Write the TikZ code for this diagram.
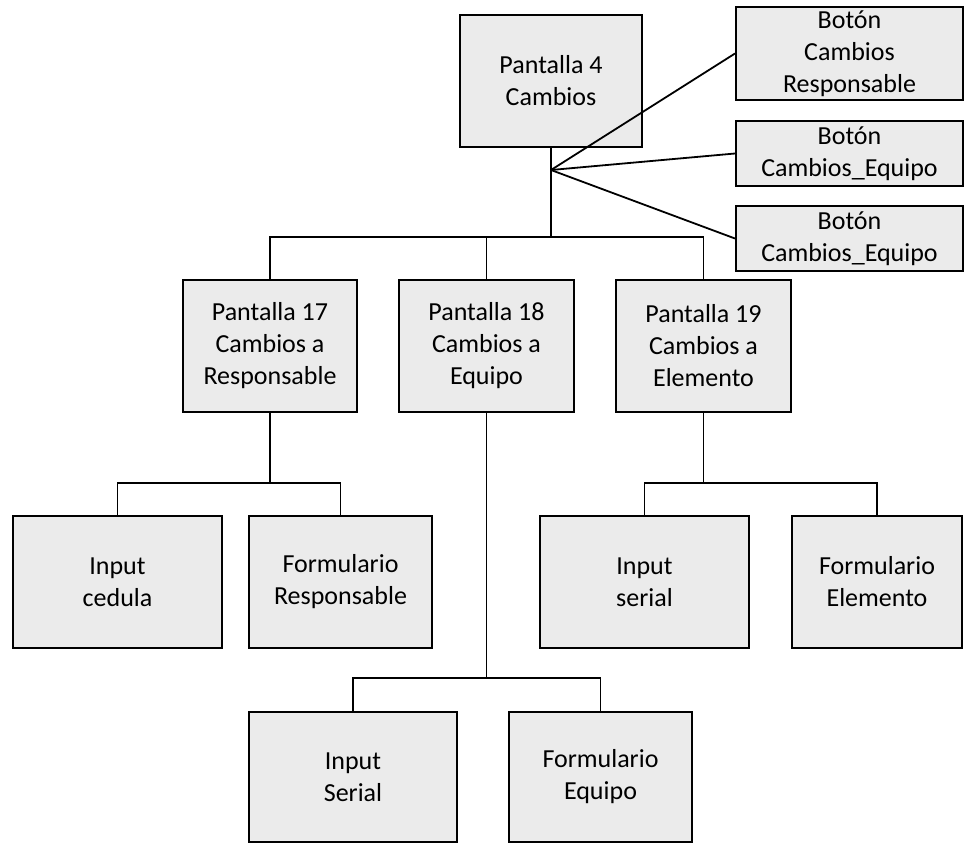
\documentclass[tikz,border=0pt]{standalone}
\usepackage{fontspec}
\setmainfont{Carlito}
\usepackage{tikz}
\usetikzlibrary{calc,positioning}

\definecolor{boxgray}{RGB}{235,235,235}

\begin{document}
\begin{tikzpicture}[x=1pt,y=-1pt,
    pantalla/.style={draw,line width=2pt,fill=boxgray,rectangle,align=center,
      inner sep=0pt,font=\fontsize{26}{32}\selectfont},
    rama/.style={line width=1.8pt}]
      \useasboundingbox (0,0) rectangle (965,844);
      % pantalla principal y botones
      \node [pantalla,minimum width=182pt,minimum height=132pt] (p4) at (551,81) {Pantalla 4\\Cambios};
      \node [pantalla,minimum width=227pt,minimum height=93pt] (btnresp) at (849.5,53.5) {Botón\\Cambios\\Responsable};
      \node [pantalla,minimum width=227pt,minimum height=65pt] (btnequipo) at (849.5,153.5) {Botón\\Cambios\_Equipo};
      \node [pantalla,minimum width=227pt,minimum height=65pt] (btnequipob) at (849.5,238.5) {Botón\\Cambios\_Equipo};
      % segundo nivel
      \node [pantalla,minimum width=174pt,minimum height=132pt] (p17) at (270,346) {Pantalla 17\\Cambios a\\Responsable};
      \node [pantalla,minimum width=175pt,minimum height=132pt] (p18) at (486.5,346) {Pantalla 18\\Cambios a\\Equipo};
      \node [pantalla,minimum width=175pt,minimum height=132pt] (p19) at (703.5,346) {Pantalla 19\\Cambios a\\Elemento};
      % hojas
      \node [pantalla,minimum width=209pt,minimum height=132pt] (incedula) at (117.5,582) {Input\\cedula};
      \node [pantalla,minimum width=183pt,minimum height=132pt] (formresp) at (340.5,582) {Formulario\\Responsable};
      \node [pantalla,minimum width=209pt,minimum height=132pt] (inserial) at (644.5,582) {Input\\serial};
      \node [pantalla,minimum width=170pt,minimum height=132pt] (formelem) at (877,582) {Formulario\\Elemento};
      \node [pantalla,minimum width=208pt,minimum height=130pt] (inSerial) at (353,777) {Input\\Serial};
      \node [pantalla,minimum width=183pt,minimum height=130pt] (formequipo) at (600.5,777) {Formulario\\Equipo};
      % conectores
      \coordinate (fan) at (551,170);
      \coordinate (j4) at (551,237);
      \coordinate (j17) at (270,483);
      \coordinate (j18) at (486.5,678);
      \coordinate (j19) at (703.5,483);
      \draw [rama] (p4.south) -- (j4);
      \draw [rama] (fan) -- (btnresp.west);
      \draw [rama] (fan) -- (btnequipo.west);
      \draw [rama] (fan) -- (btnequipob.west);
      \draw [rama] (p17.north) |- (j4) -| (p19.north);
      \draw [rama] (j4) -| (p18.north);
      \draw [rama] (p17.south) -- (j17);
      \draw [rama] (incedula.north) |- (j17) -| (formresp.north);
      \draw [rama] (p18.south) -- (j18);
      \draw [rama] (inSerial.north) |- (j18) -| (formequipo.north);
      \draw [rama] (p19.south) -- (j19);
      \draw [rama] (inserial.north) |- (j19) -| (formelem.north);
\end{tikzpicture}
\end{document}
